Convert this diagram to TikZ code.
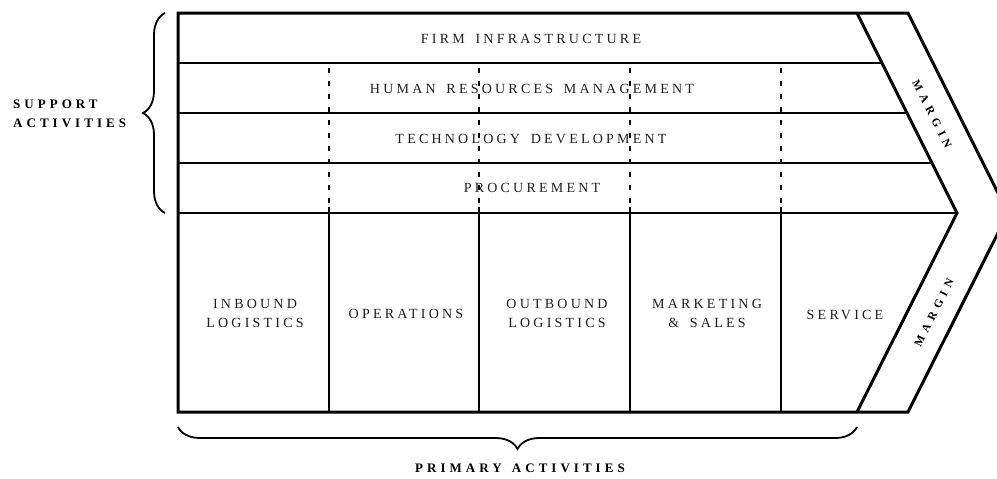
\documentclass[tikz,border=0pt]{standalone}
\usepackage{fontspec}
\setmainfont{Liberation Serif}
\newfontfamily\labfont[LetterSpace=23,WordSpace=1.6]{Liberation Serif}
\newfontfamily\boldlabfont[LetterSpace=31,WordSpace=1.4]{Liberation Serif}
\newfontfamily\marginfont[LetterSpace=44]{Liberation Serif}
\usetikzlibrary{decorations.pathreplacing}
\tikzset{
  frame/.style={line width=3pt, line join=miter},
  rowline/.style={line width=1.6pt},
  divider/.style={line width=1.4pt},
  dashdiv/.style={line width=1.4pt, dash pattern=on 5pt off 8pt},
  lab/.style={inner sep=0pt, align=center, text=black!88, font=\labfont\fontsize{14}{19}\selectfont},
  blab/.style={inner sep=0pt, align=left, text=black, font=\boldlabfont\bfseries\fontsize{13}{19}\selectfont},
  mlab/.style={inner sep=0pt, text=black, font=\marginfont\bfseries\fontsize{11.5}{14}\selectfont},
  bracestyle/.style={line width=1.8pt, decorate, decoration={brace, amplitude=22pt}}
}
\begin{document}
\begin{tikzpicture}[x=1pt, y=-1pt]
\clip (0,0) rectangle (997,479);
% row lines
\draw[rowline] (178,63) -- (882,63);
\draw[rowline] (178,113) -- (907,113);
\draw[rowline] (178,163) -- (932,163);
\draw[rowline] (178,213) -- (957,213);
% primary dividers
\foreach \x in {329,479,630,781} {
  \draw[divider] (\x,207) -- (\x,412);
  \draw[dashdiv] (\x,68) -- (\x,213);
}
% frame and chevron
\draw[frame] (178,13) -- (908,13) -- (1008,213) -- (908,412) -- (178,412) -- cycle;
\draw[frame] (857,13) -- (957,213) -- (857,412);
% support labels
\node[lab] (fi) at (531,39) {FIRM INFRASTRUCTURE};
\node[lab] (hrm) at (532,89) {HUMAN RESOURCES MANAGEMENT};
\node[lab] (td) at (531,139) {TECHNOLOGY DEVELOPMENT};
\node[lab] (proc) at (532,188) {PROCUREMENT};
% primary labels
\node[lab] (inb) at (255,313) {INBOUND\\LOGISTICS};
\node[lab] (ops) at (406,314) {OPERATIONS};
\node[lab] (outb) at (557,313) {OUTBOUND\\LOGISTICS};
\node[lab] (mkt) at (707,313) {MARKETING\\\& SALES};
\node[lab] (svc) at (845,315) {SERVICE};
% margins
\node[mlab, rotate=-63.43] (m1) at (932,114) {MARGIN};
\node[mlab, rotate=63.43] (m2) at (934,313) {MARGIN};
% braces
\coordinate (lb1) at (165,213);
\coordinate (lb2) at (165,13);
\draw[bracestyle] (lb1) -- (lb2);
\coordinate (bb1) at (857,427);
\coordinate (bb2) at (178,427);
\draw[bracestyle] (bb1) -- (bb2);
\node[blab, anchor=west] (sup) at (13,114) {SUPPORT\\ACTIVITIES};
\node[blab, anchor=center] (pri) at (520,468) {PRIMARY ACTIVITIES};
\end{tikzpicture}
\end{document}
